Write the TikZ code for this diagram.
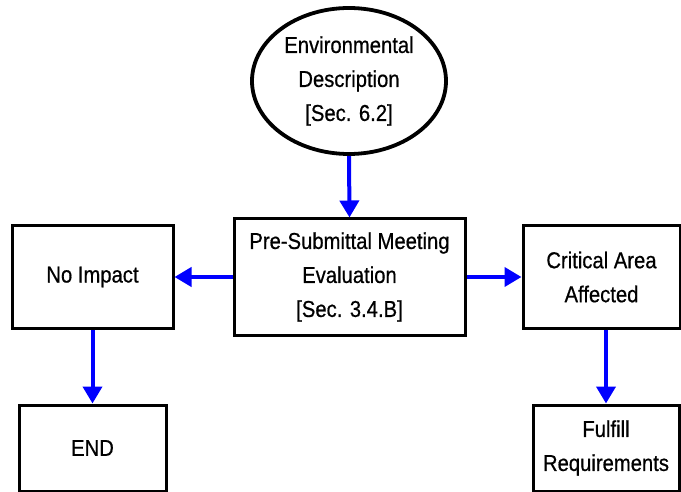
\documentclass[tikz,border=0pt]{standalone}
\usepackage{fontspec}
\setmainfont[FakeStretch=0.88,FakeBold=0.6]{Liberation Sans}
\usetikzlibrary{arrows.meta,shapes.geometric}
\begin{document}
\begin{tikzpicture}[x=1pt,y=-1pt,
  box/.style={draw=black,line width=3pt,rectangle,inner sep=0pt,align=center,
    font=\fontsize{23}{34}\selectfont},
  oval/.style={draw=black,line width=3.8pt,ellipse,inner sep=0pt,align=center,
    font=\fontsize{23}{34}\selectfont},
  flow/.style={draw={rgb,255:red,0;green,0;blue,255},line width=4pt,
    -{Triangle[length=17pt,width=19pt]}}]
\useasboundingbox (0,0) rectangle (681,492);
\node[oval,minimum width=194pt,minimum height=146pt] (env) at (349,81) {Environmental\\Description\\{}[Sec. 6.2]};
\node[box,minimum width=231pt,minimum height=116pt] (pre) at (349.5,277) {Pre-Submittal Meeting\\Evaluation\\{}[Sec. 3.4.B]};
\node[box,minimum width=161pt,minimum height=102pt] (noimp) at (92.5,277) {No Impact};
\node[box,minimum width=157pt,minimum height=102pt] (crit) at (601.5,277) {Critical Area\\Affected};
\node[box,minimum width=147pt,minimum height=86pt] (end) at (92.5,448) {END};
\node[box,minimum width=146pt,minimum height=86pt] (ful) at (606,448) {Fulfill\\Requirements};
\draw[flow] (env.south) -- (pre.north);
\draw[flow] (pre.west) -- (noimp.east);
\draw[flow] (pre.east) -- (crit.west);
\draw[flow] (noimp.south -| end.north) -- (end.north);
\draw[flow] (crit.south -| ful.north) -- (ful.north);
\end{tikzpicture}
\end{document}
